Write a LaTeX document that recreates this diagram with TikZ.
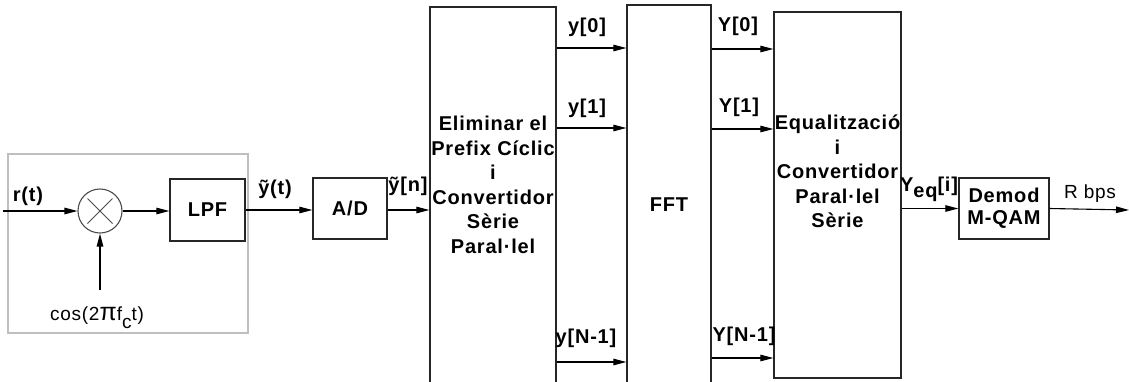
\documentclass[tikz,border=0pt]{standalone}
\usepackage{fontspec}
\setmainfont{Liberation Sans}[LetterSpace=4]
\usetikzlibrary{arrows.meta,calc}
\begin{document}
\begin{tikzpicture}[x=1pt,y=-1pt,
  blk/.style={draw=black!85, line width=1.3pt, rectangle, inner sep=0pt},
  sig/.style={draw=black, line width=1.1pt, -{Triangle[length=13pt,width=6.5pt]}},
  lab/.style={font=\fontsize{20}{24.5}\selectfont\bfseries, inner sep=0pt, align=center},
  reg/.style={font=\fontsize{19}{24.5}\selectfont, inner sep=0pt, align=center},
  frame/.style={draw=black!25, line width=1.5pt}]
\useasboundingbox (0,0) rectangle (1129,381);
\clip (0,0) rectangle (1129,381);
\fill[white] (0,0) rectangle (1129,381);
% gray frame
\draw[frame] (8,154) rectangle (248,333);
% blocks
\node[draw=black!70, line width=1.1pt, circle, minimum size=44pt, inner sep=0pt] (mult) at (100,211) {};
\draw[black!70, line width=1pt] ($(mult.center)+(-12.5,-12.5)$) -- ($(mult.center)+(12.5,12.5)$);
\draw[black!70, line width=1pt] ($(mult.center)+(-12.5,12.5)$) -- ($(mult.center)+(12.5,-12.5)$);
\node[blk, minimum width=75pt, minimum height=62pt, lab] (lpf) at (207.5,210) {LPF};
\node[blk, minimum width=74pt, minimum height=61pt, lab] (ad) at (350,208.5) {A/D};
\node[blk, minimum width=126pt, minimum height=384pt] (elim) at (493,199) {};
\node[lab] (elimtxt) at (493,185) {Eliminar el\\Prefix Cíclic\\i\\Convertidor\\Sèrie\\Paral·lel};
\node[blk, minimum width=84pt, minimum height=385pt] (fft) at (669,197.5) {};
\node[lab] (ffttxt) at (669,205) {FFT};
\node[blk, minimum width=127pt, minimum height=366pt] (eq) at (837.5,195) {};
\node[lab] (eqtxt) at (837.5,171.5) {Equalització\\i\\Convertidor\\Paral·lel\\Sèrie};
\node[blk, minimum width=90pt, minimum height=61pt, lab, font=\fontsize{20}{22}\selectfont\bfseries] (demod) at (1004,208.5) {Demod\\M-QAM};
% free ends
\coordinate (in) at (3,211);
\coordinate (lo) at (100,290);
\coordinate (out) at (1129,210);
% connectors
\draw[sig] (in) -- (mult.west);
\draw[sig] (mult.east) -- (mult.east -| lpf.west);
\draw[sig] (lo) -- (mult.south);
\draw[sig] (lpf.east) -- (lpf.east -| ad.west);
\draw[sig] ([yshift=-1.5pt]ad.east) -- ([yshift=-1.5pt]ad.east -| elim.west);
\draw[sig] (elim.east |- 0,48) -- (fft.west |- 0,48);
\draw[sig] (elim.east |- 0,128) -- (fft.west |- 0,128);
\draw[sig] (elim.east |- 0,362) -- (fft.west |- 0,362);
\draw[sig] (fft.east |- 0,49) -- (eq.west |- 0,49);
\draw[sig] (fft.east |- 0,129) -- (eq.west |- 0,129);
\draw[sig] (fft.east |- 0,358) -- (eq.west |- 0,358);
\draw[sig] (eq.east |- demod.west) -- (demod.west);
\draw[sig] (demod.east) -- (out);
% labels
\node[lab] (lr) at (28,196) {r(t)};
\node[reg] (lcos) at (97,318) {cos(2{\fontsize{25}{25}\selectfont π}f\raisebox{-8pt}{c}t)};
\node[lab] (lyt) at (275,189) {ỹ(t)};
\node[lab] (lyn) at (408,186) {ỹ[n]};
\node[lab] (ly0) at (587,27) {y[0]};
\node[lab] (ly1) at (587,108) {y[1]};
\node[lab] (lyN) at (586,338) {y[N-1]};
\node[lab] (lY0) at (738,26) {Y[0]};
\node[lab] (lY1) at (739,107) {Y[1]};
\node[lab] (lYN) at (744,336) {Y[N-1]};
\node[lab] (lYeq) at (929,189) {Y\raisebox{-6pt}{eq}[i]};
\node[reg] (lR) at (1090,194) {R bps};
\end{tikzpicture}
\end{document}
